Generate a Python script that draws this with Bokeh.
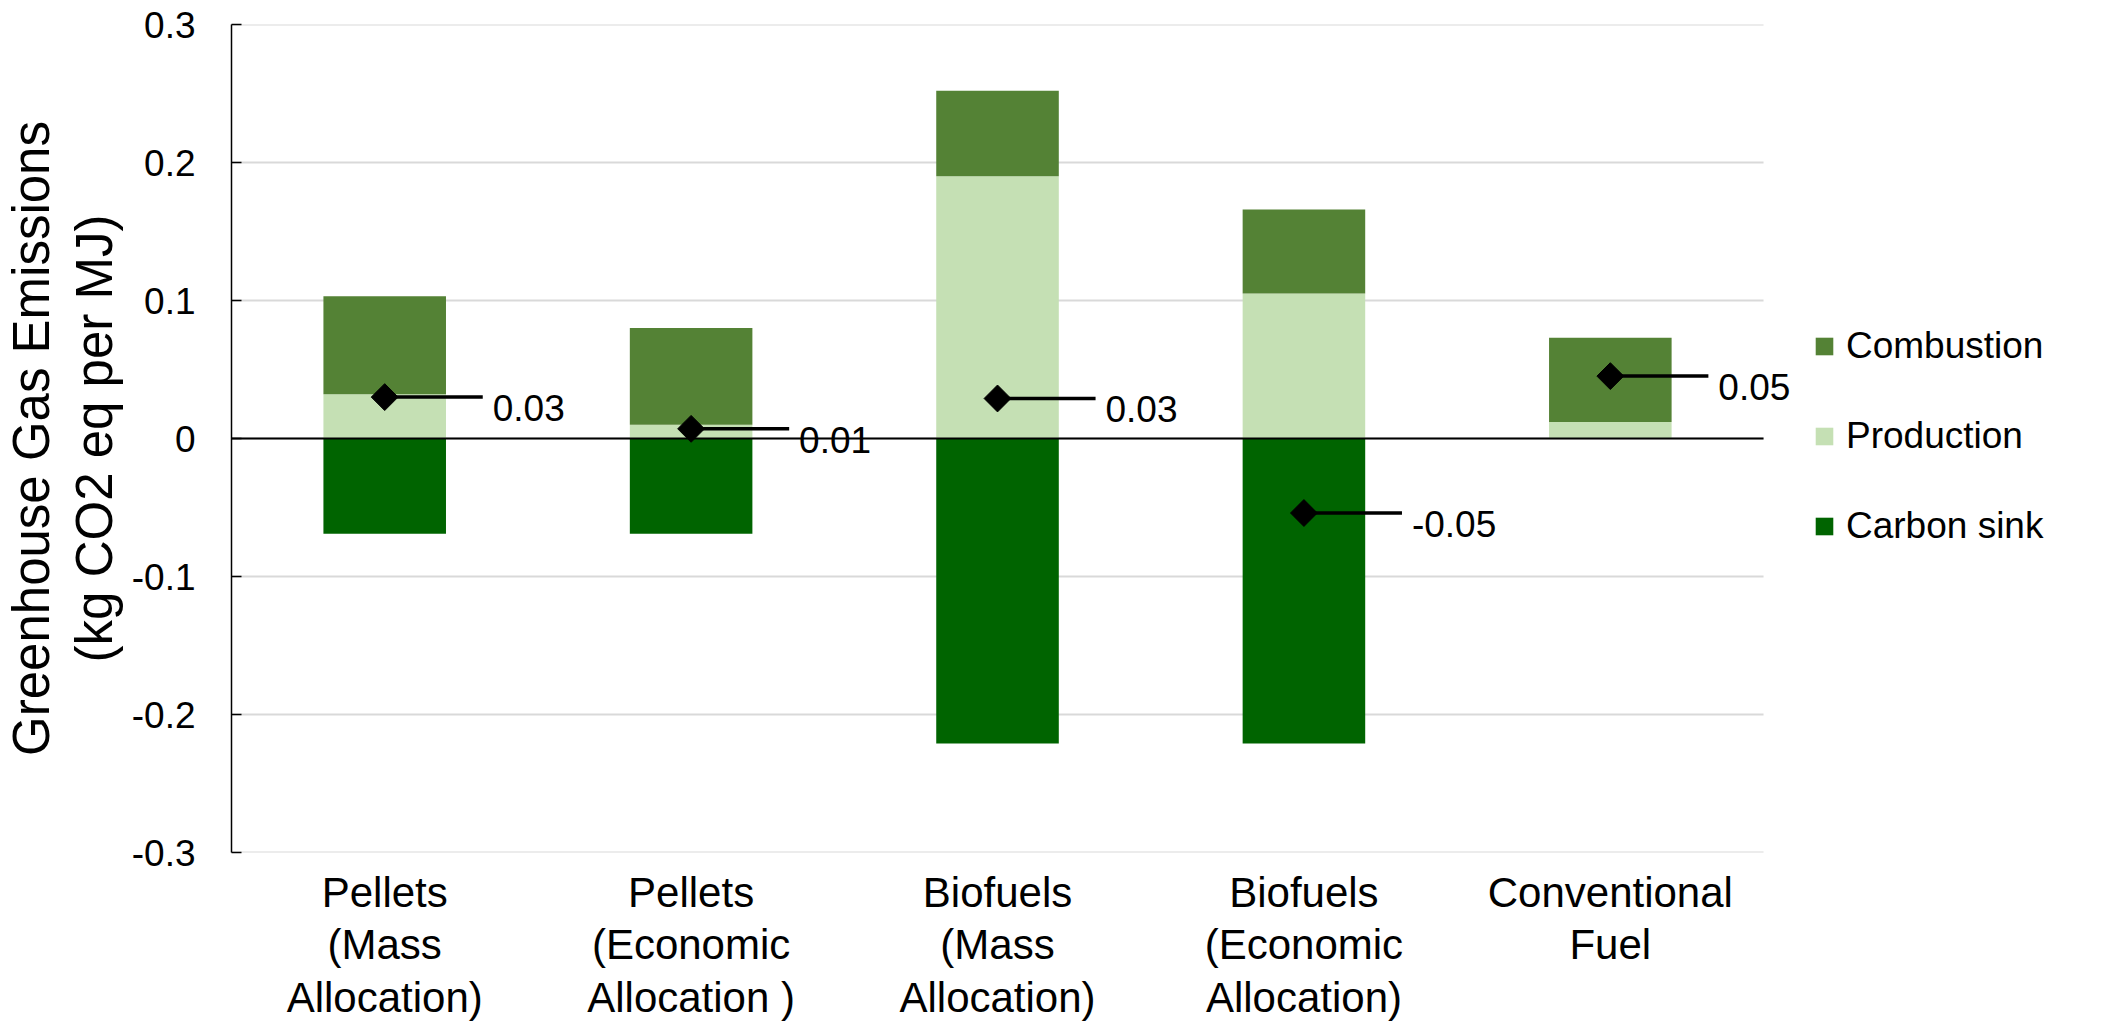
from bokeh.plotting import figure
from bokeh.models import (Range1d, FixedTicker, Legend, LegendItem, ColumnDataSource)
from bokeh.core.properties import value
from bokeh.embed import file_html
from bokeh.resources import INLINE

# --- data -------------------------------------------------------------
categories = [
    "Pellets\n(Mass\nAllocation)",
    "Pellets\n(Economic\nAllocation )",
    "Biofuels\n(Mass\nAllocation)",
    "Biofuels\n(Economic\nAllocation)",
    "Conventional\nFuel",
]
production = [0.032, 0.010, 0.190, 0.105, 0.012]
combustion = [0.071, 0.070, 0.062, 0.061, 0.061]
carbon_sink = [-0.069, -0.069, -0.221, -0.221, 0.0]
net_emissions = [0.030, 0.007, 0.029, -0.054, 0.0452]

y_ticks = [-0.3, -0.2, -0.1, 0.0, 0.1, 0.2, 0.3]
y_tick_labels = ["-0.3", "-0.2", "-0.1", "0", "0.1", "0.2", "0.3"]

colors = {"Combustion": "#548235", "Production": "#C5E0B4", "Carbon sink": "#006400"}

FONT = "Liberation Sans"

# --- sources ----------------------------------------------------------
n = len(categories)
xs = [i + 0.5 for i in range(n)]          # category centres on a numeric scale
comb_top = [p + c for p, c in zip(production, combustion)]
src = ColumnDataSource(dict(
    x=xs,
    zero=[0.0] * n,
    prod_top=production,
    comb_top=comb_top,
    sink=carbon_sink,
    net=net_emissions,
    lead_end=[x + 0.32 for x in xs],
    net_label=[f"{v:.2f}" for v in net_emissions],
))
grid_src = ColumnDataSource(dict(y=y_ticks, x0=[0] * len(y_ticks), x1=[n] * len(y_ticks)))

# --- figure -----------------------------------------------------------
# the frame runs to the right edge so the legend and outer labels stay visible;
# gridlines are drawn only across the category span
p = figure(
    x_range=Range1d(0, 6.103),
    y_range=Range1d(-0.3, 0.3),
    width=2101, height=1024,
    output_backend="svg", toolbar_location=None,
)
p.min_border_left = 230
p.min_border_right = 0
p.min_border_top = 24
p.min_border_bottom = 172
p.outline_line_color = None
p.xgrid.grid_line_color = None
p.ygrid.grid_line_color = None

p.segment(x0="x0", y0="y", x1="x1", y1="y", source=grid_src,
          line_color="#d9d9d9", line_width=2)

BAR_W = 0.4
r_sink = p.vbar(x="x", bottom="zero", top="sink", width=BAR_W, source=src,
                fill_color=colors["Carbon sink"], line_color=None)
r_prod = p.vbar(x="x", bottom="zero", top="prod_top", width=BAR_W, source=src,
                fill_color=colors["Production"], line_color=None)
r_comb = p.vbar(x="x", bottom="prod_top", top="comb_top", width=BAR_W, source=src,
                fill_color=colors["Combustion"], line_color=None)

# horizontal axis line at zero
p.segment(x0=[0], y0=[0], x1=[n], y1=[0], line_color="black", line_width=2)

# net emissions markers with leader lines and value labels
p.segment(x0="x", y0="net", x1="lead_end", y1="net",
          source=src, line_color="black", line_width=3.5)
p.scatter(x="x", y="net", source=src, marker="square", size=19, angle=0.785398,
          fill_color="black", line_color="black")
p.text(x="x", y="net", text="net_label", source=src, x_offset=108, y_offset=11,
       text_font=value(FONT), text_font_size="37px", text_color="black",
       text_baseline="alphabetic", text_align="left")

# --- axes -------------------------------------------------------------
p.yaxis.ticker = FixedTicker(ticks=y_ticks)
p.yaxis.major_label_overrides = dict(zip(y_ticks, y_tick_labels))
p.yaxis.axis_line_color = "black"
p.yaxis.axis_line_width = 1.5
p.yaxis.major_tick_line_color = "black"
p.yaxis.major_tick_line_width = 1.5
p.yaxis.major_tick_in = 10
p.yaxis.major_tick_out = 0
p.yaxis.minor_tick_line_color = None
p.yaxis.major_label_standoff = 36
p.yaxis.major_label_text_font = FONT
p.yaxis.major_label_text_font_size = "37px"
p.yaxis.major_label_text_color = "black"
p.yaxis.axis_label = "Greenhouse Gas Emissions\n(kg CO2 eq per MJ)"
p.yaxis.axis_label_text_font = FONT
p.yaxis.axis_label_text_font_size = "51px"
p.yaxis.axis_label_text_font_style = "normal"
p.yaxis.axis_label_text_color = "black"
p.yaxis.axis_label_text_line_height = 1.1
p.yaxis.axis_label_standoff = 6

p.xaxis.ticker = FixedTicker(ticks=xs)
p.xaxis.major_label_overrides = dict(zip(xs, categories))
p.xaxis.axis_line_color = None
p.xaxis.major_tick_line_color = None
p.xaxis.minor_tick_line_color = None
p.xaxis.major_label_standoff = 10
p.xaxis.major_label_text_font = FONT
p.xaxis.major_label_text_font_size = "42px"
p.xaxis.major_label_text_color = "black"
p.xaxis.major_label_text_line_height = 1.12
p.xaxis.major_label_orientation = "horizontal"

# --- legend -----------------------------------------------------------
legend = Legend(
    items=[LegendItem(label="Combustion", renderers=[r_comb]),
           LegendItem(label="Production", renderers=[r_prod]),
           LegendItem(label="Carbon sink", renderers=[r_sink])],
    location=(1582, 305),
    glyph_width=22, glyph_height=22, label_height=22,
    label_standoff=11, spacing=48, padding=0, margin=0,
    label_text_font=FONT, label_text_font_size="37px", label_text_color="black",
    border_line_color=None, background_fill_alpha=0,
)
p.add_layout(legend)

open("out.html", "w").write(file_html(p, INLINE))
